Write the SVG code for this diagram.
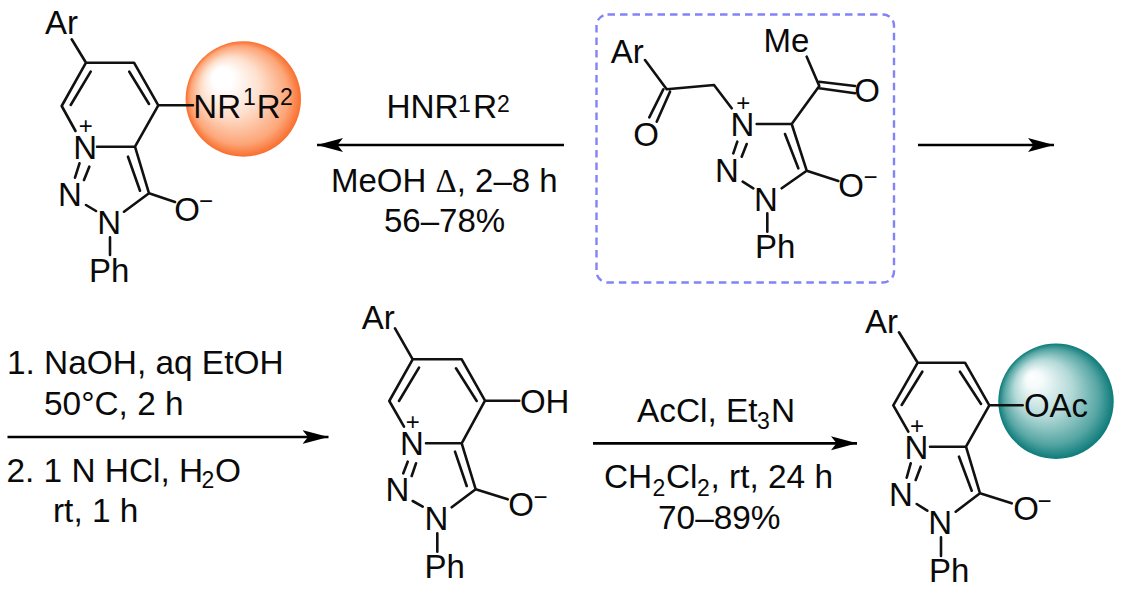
<svg xmlns="http://www.w3.org/2000/svg" width="1122" height="591" viewBox="0 0 1122 591">
<style>
text{font-family:"Liberation Sans",Arial,sans-serif;font-size:33px;fill:#0a0a0a}
.r{font-size:33.4px}
.q{font-size:33px}
.s{font-size:23px}
.p{font-size:24px}
.d{font-family:"Liberation Serif","Times New Roman",serif}
.b{stroke:#111;stroke-width:2.6;fill:none;stroke-linecap:round;stroke-linejoin:round}
.a{stroke:#000;stroke-width:2.7;fill:none}
</style>
<defs>
<radialGradient id="og" cx="0.5" cy="0.5" r="0.5" fx="0.28" fy="0.28"><stop offset="0" stop-color="#fff"/><stop offset="0.18" stop-color="#fff"/><stop offset="0.5" stop-color="#fee0ce"/><stop offset="0.85" stop-color="#fca577"/><stop offset="1" stop-color="#f96e2e"/></radialGradient>
<radialGradient id="tg" cx="0.5" cy="0.5" r="0.5" fx="0.28" fy="0.28"><stop offset="0" stop-color="#fff"/><stop offset="0.15" stop-color="#f4fafa"/><stop offset="0.5" stop-color="#b2d9d7"/><stop offset="0.82" stop-color="#56a6a4"/><stop offset="1" stop-color="#0c7b79"/></radialGradient>
<marker id="ah" markerUnits="userSpaceOnUse" markerWidth="26" markerHeight="16" refX="26" refY="8" orient="auto"><path d="M0 1L26 8L0 15L5.500 8Z" fill="#000"/></marker>
</defs>

<g id="product-amine">
<circle cx="243.300" cy="99" r="57.700" fill="url(#og)"/>
<path class="b" d="M71.700 39.300L86 62.700H134L158.300 105.300L135 146.700H97M86 62.700L61.700 106L75.500 131M90.700 71.700L70.700 105M129.300 71.700L149 104M135 146.700L149 193.300L124 211.700M128 156.700L140 190.700M149 193.300L175 202M86 205L96 211M79.500 163.300L75 177.700M89.300 166.700L84 180M110 237.300V255M158.300 105.300H193"/>
<text x="45" y="34">Ar</text>
<text x="73.300" y="159">N<tspan class="p" dx="-18.300" dy="-25">+</tspan></text>
<text x="58" y="205.700">N</text>
<text x="97.300" y="234">N</text>
<text x="89" y="282">Ph</text>
<text x="174.200" y="220.700">O</text><text class="p" x="199" y="209">−</text>
<text x="193.300" y="118">NR</text><text class="s" x="243" y="105">1</text><text x="256.800" y="118">R</text><text class="s" x="280" y="105">2</text>
</g>

<g id="reactant">
<rect x="596.500" y="14.500" width="297.500" height="268" rx="11" fill="none" stroke="#8383f8" stroke-width="2.400" stroke-dasharray="7.500 5"/>
<path class="b" d="M645 60L666.700 89.300L714 85L731.700 108.300M663.300 89.300L649.300 117.300M670 91.700L656.700 121.700M756.700 124H791.700L819.300 86L806.700 56.700M819.300 81.700L855 86M819.300 88.300L855 93.300M791.700 124L806.700 170.700L781.700 188.300M785 134L798.300 168.300M806.700 170.700L838.300 181M742.700 181.700L753.300 188.300M737.300 141.700L733.300 153.300M746.700 144L741.700 156.700M767.300 213.300V231.700"/>
<text x="610.700" y="63.300">Ar</text>
<text x="633.200" y="145.700">O</text>
<text x="763.500" y="52.300">Me</text>
<text x="854.200" y="101.700">O</text>
<text x="730.600" y="135.700">N<tspan class="p" dx="-18.300" dy="-25">+</tspan></text>
<text x="715" y="182.300">N</text>
<text x="754" y="210.700">N</text>
<text x="755" y="258.300">Ph</text>
<text x="838.200" y="196.700">O</text><text class="p" x="863.500" y="185">−</text>
</g>

<g id="product-hydroxy">
<path class="b" d="M395 328.300L412.700 359.300H461.700L485 400.700L461.700 443.300H426M412.700 359.300L389.300 401L404 426.700M419 367.700L399 401M456 368.300L476.700 401M461.700 443.300L475.700 489.300L451.700 507.300M455 451.700L466.700 486M475.700 489.300L507.700 499.300M412.700 501L422.700 506.700M407.700 461.700L403.300 473.300M416 463.300L411.700 476M437.300 533.300V551.700M485 400.700H519.300"/>
<text x="361.700" y="329.300">Ar</text>
<text x="400" y="455">N<tspan class="p" dx="-18" dy="-25">+</tspan></text>
<text x="385.600" y="501">N</text>
<text x="424.600" y="530">N</text>
<text x="424.600" y="577.700">Ph</text>
<text x="508.200" y="516">O</text><text class="p" x="533.500" y="505">−</text>
<text x="519.900" y="413.300">OH</text>
</g>

<g id="product-acetate">
<circle cx="1056" cy="401.300" r="57.700" fill="url(#tg)"/>
<path class="b" d="M899 332.300L917.700 362.700H965L989.300 405.300L966 446.700H930M917.700 362.700L893.300 405.300L908.300 431.700M922.300 371.700L901.700 405M960 371.700L981 404M966 446.700L980 493.300L955.700 511.700M959 456.700L971.700 490.700M980 493.300L1011.700 503.300M916.700 504L927.300 510.700M910.700 463.300L906.700 477.700M920.700 466.700L915.700 480M941 537.300V556M989.300 405.300H1022.700"/>
<text x="865" y="333.300">Ar</text>
<text x="904.600" y="459.300">N<tspan class="p" dx="-18.500" dy="-25">+</tspan></text>
<text x="889" y="505.700">N</text>
<text x="928.300" y="534">N</text>
<text x="929" y="582.300">Ph</text>
<text x="1013.200" y="520">O</text><text class="p" x="1037.500" y="509">−</text>
<text x="1023.900" y="417.300">OAc</text>
</g>

<g id="connectors">
<line class="a" x1="564" y1="145" x2="317" y2="145" marker-end="url(#ah)"/>
<line class="a" x1="918" y1="145" x2="1054" y2="145" marker-end="url(#ah)"/>
<line class="a" x1="7.500" y1="437" x2="328.500" y2="437" marker-end="url(#ah)"/>
<line class="a" x1="593" y1="443.300" x2="857" y2="443.300" marker-end="url(#ah)"/>
</g>

<g id="labels">
<text class="r" x="386.400" y="118.300">HNR</text><text class="s" x="458" y="112">1</text><text class="r" x="473" y="118.300">R</text><text class="s" x="497" y="112">2</text>
<text class="q" x="331" y="191.700">MeOH <tspan class="d">Δ</tspan>, 2–8 h</text>
<text class="q" x="384" y="232.300">56–78%</text>
<text class="r" x="7" y="374.300">1. NaOH, aq EtOH</text>
<text class="r" x="44" y="415">50°C, 2 h</text>
<text class="r" x="6.500" y="481.700">2. 1 N HCl, H</text><text class="s" x="201.500" y="488.300">2</text><text class="r" x="215" y="481.700">O</text>
<text class="r" x="53" y="521.700">rt, 1 h</text>
<text class="r" x="637" y="422.300">AcCl, Et</text><text class="s" x="757" y="429.300">3</text><text class="r" x="771" y="422.300">N</text>
<text class="r" x="604" y="488.300">CH</text><text class="s" x="652.500" y="496">2</text><text class="r" x="666" y="488.300">Cl</text><text class="s" x="697" y="496">2</text><text class="r" x="710.500" y="488.300">, rt, 24 h</text>
<text class="r" x="658" y="529.300">70–89%</text>
</g>
</svg>
